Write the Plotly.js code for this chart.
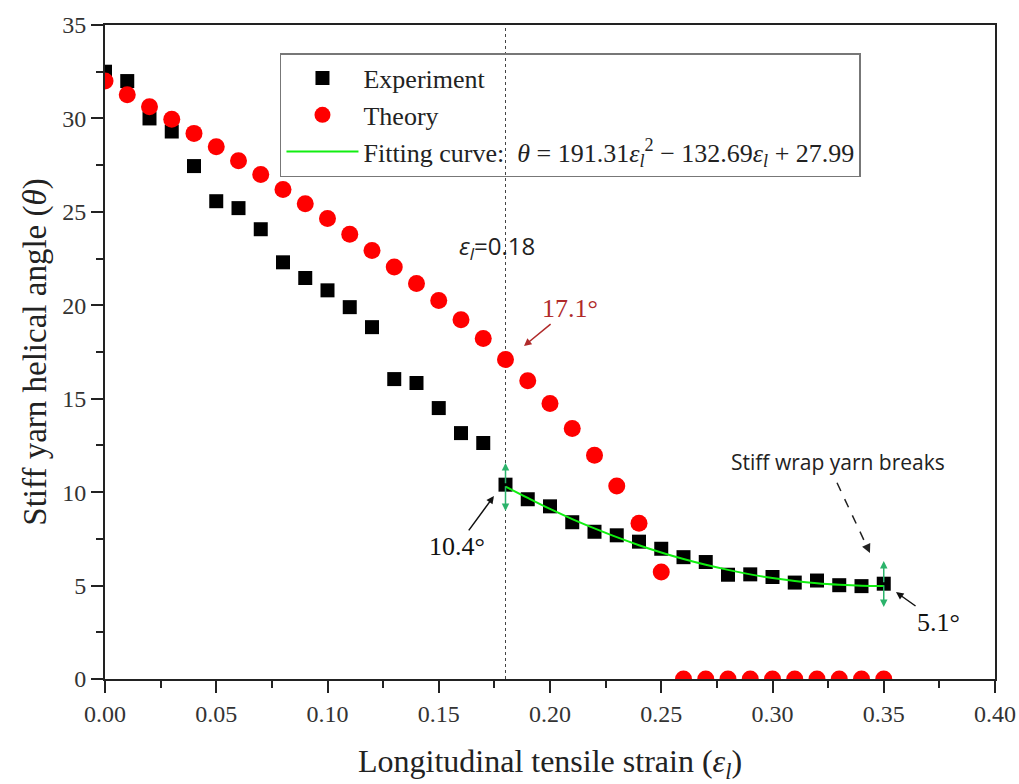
<!DOCTYPE html>
<html>
<head>
<meta charset="utf-8">
<script src="https://cdn.plot.ly/plotly-3.0.1.min.js"></script>
<style>
  html, body { margin: 0; padding: 0; background: #ffffff; }
  #chart { width: 1019px; height: 784px; }
</style>
</head>
<body>
<div id="chart"></div>
<script>
// ---- Data ----
const strainExp = [0.00, 0.01, 0.02, 0.03, 0.04, 0.05, 0.06, 0.07, 0.08, 0.09,
                   0.10, 0.11, 0.12, 0.13, 0.14, 0.15, 0.16, 0.17, 0.18, 0.19,
                   0.20, 0.21, 0.22, 0.23, 0.24, 0.25, 0.26, 0.27, 0.28, 0.29,
                   0.30, 0.31, 0.32, 0.33, 0.34, 0.35];
const angleExp = [32.5, 32.0, 30.0, 29.3, 27.45, 25.57, 25.2, 24.07, 22.3, 21.46,
                  20.8, 19.9, 18.83, 16.05, 15.84, 14.5, 13.16, 12.63, 10.4, 9.62,
                  9.24, 8.39, 7.88, 7.69, 7.35, 6.97, 6.52, 6.26, 5.58, 5.6,
                  5.46, 5.16, 5.27, 5.02, 4.97, 5.1];

const strainTheory = [0.00, 0.01, 0.02, 0.03, 0.04, 0.05, 0.06, 0.07, 0.08, 0.09,
                      0.10, 0.11, 0.12, 0.13, 0.14, 0.15, 0.16, 0.17, 0.18, 0.19,
                      0.20, 0.21, 0.22, 0.23, 0.24, 0.25, 0.26, 0.27, 0.28, 0.29,
                      0.30, 0.31, 0.32, 0.33, 0.34, 0.35];
const angleTheory = [32.0, 31.27, 30.62, 29.95, 29.2, 28.48, 27.73, 27.0, 26.2, 25.43,
                     24.65, 23.8, 22.93, 22.05, 21.17, 20.25, 19.22, 18.22, 17.1, 15.96,
                     14.75, 13.41, 11.97, 10.33, 8.33, 5.73, 0, 0, 0, 0,
                     0, 0, 0, 0, 0, 0];

// Fitting curve values (0.18 – 0.35)
const strainFit = [0.18, 0.19, 0.20, 0.21, 0.22, 0.23, 0.24, 0.25, 0.26,
                   0.27, 0.28, 0.29, 0.30, 0.31, 0.32, 0.33, 0.34, 0.35];
const angleFit = [10.30, 9.69, 9.10, 8.56, 8.06, 7.59, 7.16, 6.77, 6.42,
                  6.11, 5.84, 5.60, 5.40, 5.24, 5.12, 5.04, 4.99, 4.98];

const xTickVals = [0.00, 0.05, 0.10, 0.15, 0.20, 0.25, 0.30, 0.35, 0.40];
const xTickText = ["0.00", "0.05", "0.10", "0.15", "0.20", "0.25", "0.30", "0.35", "0.40"];
const yTickVals = [0, 5, 10, 15, 20, 25, 30, 35];
const yTickText = ["0", "5", "10", "15", "20", "25", "30", "35"];

const legendNames = ["Experiment", "Theory",
  "Fitting curve:  <i>θ</i> = 191.31<i>ε<sub>l</sub></i><sup>2</sup> − 132.69<i>ε<sub>l</sub></i> + 27.99"];

// Marked points and labels
const markStrain = 0.18;
const breakStrain = 0.35;
const theoryAtMark = 17.1;
const expAtMark = 10.4;
const expAtBreak = 5.1;

// ---- Styles ----
const serif = "Liberation Serif, Times New Roman, serif";
const sans = "Open Sans, Liberation Sans, sans-serif";
const axisColor = "#222222";
const arrowGreen = "#2bb36b";

const traces = [
  {
    x: strainExp, y: angleExp, type: "scatter", mode: "markers",
    name: legendNames[0],
    marker: { symbol: "square", size: 14, color: "#000000" }
  },
  {
    x: strainTheory, y: angleTheory, type: "scatter", mode: "markers",
    name: legendNames[1],
    marker: { symbol: "circle", size: 17, color: "#ff0000" }
  },
  {
    x: strainFit, y: angleFit, type: "scatter", mode: "lines",
    name: legendNames[2],
    line: { color: "#11ee11", width: 2, shape: "spline" }
  }
];

function greenArrow(x, yTip, yTail) {
  return {
    x: x, y: yTip, ax: x, ay: yTail, xref: "x", yref: "y", axref: "x", ayref: "y",
    text: "", showarrow: true, arrowhead: 2, arrowsize: 1, arrowwidth: 1.5,
    arrowcolor: arrowGreen
  };
}

const layout = {
  width: 1019, height: 784,
  margin: { l: 105, r: 24, t: 25, b: 105 },
  paper_bgcolor: "#ffffff", plot_bgcolor: "#ffffff",
  showlegend: true,
  legend: {
    x: 0.1966, y: 0.957, xanchor: "left", yanchor: "top",
    bgcolor: "rgba(255,255,255,0)", bordercolor: "#777777", borderwidth: 1.5,
    font: { family: serif, size: 26, color: "#222222" },
    itemwidth: 72, tracegroupgap: 0,
    entrywidth: 680, entrywidthmode: "pixels"
  },
  xaxis: {
    range: [0, 0.40], autorange: false,
    tickmode: "array", tickvals: xTickVals, ticktext: xTickText,
    ticks: "outside", ticklen: 12, tickwidth: 2, tickcolor: axisColor,
    minor: { tickmode: "linear", tick0: 0, dtick: 0.025, ticks: "outside", ticklen: 7, tickwidth: 2, tickcolor: axisColor, showgrid: false },
    showline: true, linecolor: axisColor, linewidth: 2, mirror: true,
    showgrid: false, zeroline: false,
    tickfont: { family: serif, size: 24, color: "#333333" },
    title: { text: "Longitudinal tensile strain (<i>ε<sub>l</sub></i>)", font: { family: serif, size: 32, color: "#222222" }, standoff: 24 },
    automargin: false
  },
  yaxis: {
    range: [0, 35], autorange: false,
    tickmode: "array", tickvals: yTickVals, ticktext: yTickText,
    ticks: "outside", ticklen: 12, tickwidth: 2, tickcolor: axisColor,
    minor: { tickmode: "linear", tick0: 0, dtick: 2.5, ticks: "outside", ticklen: 7, tickwidth: 2, tickcolor: axisColor, showgrid: false },
    showline: true, linecolor: axisColor, linewidth: 2, mirror: true,
    showgrid: false, zeroline: false,
    tickfont: { family: serif, size: 24, color: "#333333" },
    title: { text: "Stiff yarn helical angle (<i>θ</i>)", font: { family: serif, size: 33, color: "#222222" }, standoff: 6 },
    automargin: false
  },
  shapes: [
    {
      type: "line", xref: "x", yref: "y", x0: markStrain, x1: markStrain, y0: 0, y1: 35,
      line: { color: "#444444", width: 1, dash: "dot" }, layer: "below"
    },
    {
      type: "line", xref: "x", yref: "y", x0: 0.329, y0: 10.5, x1: 0.3428, y1: 7.0,
      line: { color: "#222222", width: 1.5, dash: "dash" }
    }
  ],
  annotations: [
    {
      x: 0.1762, y: 23.1, xref: "x", yref: "y", showarrow: false,
      text: "<i>ε<sub>l</sub></i>=0.18",
      font: { family: sans, size: 24, color: "#222222" }
    },
    {
      x: 0.1883, y: 17.82, xref: "x", yref: "y", axref: "x", ayref: "y",
      ax: 0.209, ay: 19.85, text: theoryAtMark.toFixed(1) + "°",
      showarrow: true, arrowhead: 2, arrowsize: 1, arrowwidth: 1.5, arrowcolor: "#b02a2a",
      font: { family: serif, size: 26, color: "#b02a2a" }
    },
    {
      x: 0.1748, y: 9.79, xref: "x", yref: "y", axref: "x", ayref: "y",
      ax: 0.1582, ay: 7.1, text: expAtMark.toFixed(1) + "°",
      showarrow: true, arrowhead: 2, arrowsize: 1, arrowwidth: 1.5, arrowcolor: "#111111",
      font: { family: serif, size: 26, color: "#111111" }
    },
    {
      x: 0.3555, y: 4.65, xref: "x", yref: "y", axref: "x", ayref: "y",
      ax: 0.3744, ay: 3.05, text: expAtBreak.toFixed(1) + "°",
      showarrow: true, arrowhead: 2, arrowsize: 1, arrowwidth: 1.5, arrowcolor: "#111111",
      font: { family: serif, size: 26, color: "#111111" }
    },
    {
      x: 0.3294, y: 11.61, xref: "x", yref: "y", showarrow: false,
      text: "Stiff wrap yarn breaks",
      font: { family: sans, size: 21, color: "#222222" }
    },
    {
      x: 0.3438, y: 6.74, xref: "x", yref: "y", axref: "x", ayref: "y",
      ax: 0.3426, ay: 7.05, text: "",
      showarrow: true, arrowhead: 2, arrowsize: 1.2, arrowwidth: 1.5, arrowcolor: "#222222"
    },
    greenArrow(markStrain, 11.56, expAtMark),
    greenArrow(markStrain, 8.99, expAtMark),
    greenArrow(breakStrain, 6.31, expAtBreak),
    greenArrow(breakStrain, 3.85, expAtBreak)
  ]
};

Plotly.newPlot("chart", traces, layout, { displayModeBar: false, staticPlot: true });
</script>
</body>
</html>
